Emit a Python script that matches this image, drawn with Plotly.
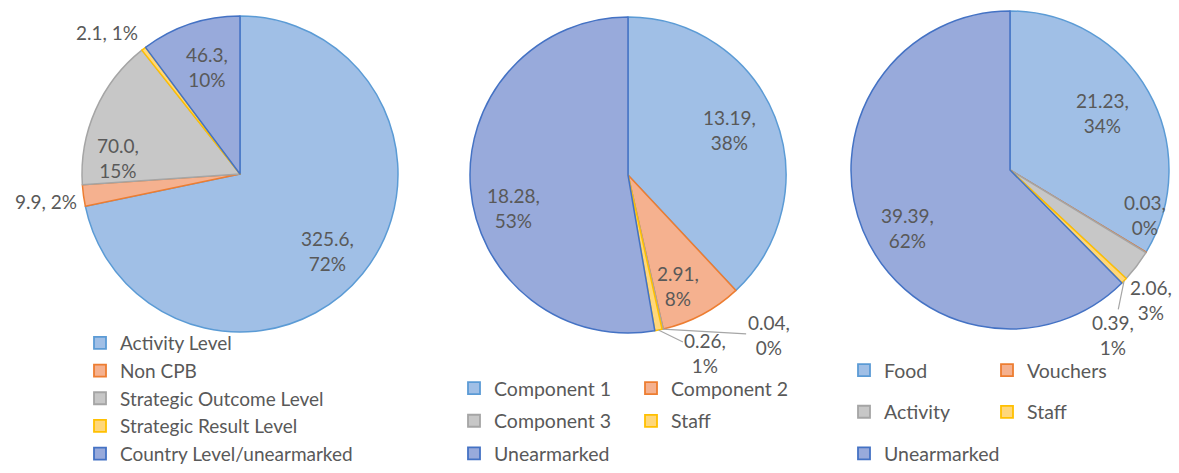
import math
import plotly.graph_objects as go

# ---- data ----
labels1 = ["Activity Level", "Non CPB", "Strategic Outcome Level", "Strategic Result Level", "Country Level/unearmarked"]
values1 = [325.6, 9.9, 70.0, 2.1, 46.3]
pct1 = ["72%", "2%", "15%", "1%", "10%"]

labels2 = ["Component 1", "Component 2", "Component 3", "Staff", "Unearmarked"]
values2 = [13.19, 2.91, 0.04, 0.26, 18.28]
pct2 = ["38%", "8%", "0%", "1%", "53%"]

labels3 = ["Food", "Vouchers", "Activity", "Staff", "Unearmarked"]
values3 = [21.23, 0.03, 2.06, 0.39, 39.39]
pct3 = ["34%", "0%", "3%", "1%", "62%"]

# ---- style ----
fills = ["#a0bfe6", "#f5b18f", "#c7c7c7", "#ffd77a", "#98aadb"]
lines = ["#5b9bd5", "#ed7d31", "#a5a5a5", "#ffc000", "#4472c4"]
FONT = "Lato"
TXT = "#595959"
LEADER = "#a6a6a6"
W, H = 1179, 473
FS = 19

# pie geometry (pixels): centre x, centre y, radius
geo = [(240, 174, 158), (628, 175, 158), (1010, 170, 159)]

# label placement per slice: ("in", dx, dy) near 0.73 r on the mid angle,
# ("out", dx, dy, xanchor) shifted from the rim point, ("arrow", ax, ay) with leader line
place1 = [("in", -2, 4), ("out", -4, 6, "right"), ("in", -17, 31), ("out", -4, -16, "right"), ("in", 3, 2)]
place2 = [("in", -6, -3), ("in", -4, 9), ("arrow", 106, 6), ("arrow", 47, 23), ("in", 0, 23)]
place3 = [("in", -9, 0), ("out", -1, -37, "center"), ("out", 14, 34, "center"), ("arrow", -11, 54), ("in", 5, 14)]

def dom(cx, cy, r):
    return dict(x=[(cx - r) / W, (cx + r) / W], y=[1 - (cy + r) / H, 1 - (cy - r) / H])

fig = go.Figure()
annotations = []

series = [
    (labels1, values1, pct1, "{:.1f}", place1),
    (labels2, values2, pct2, "{:.2f}", place2),
    (labels3, values3, pct3, "{:.2f}", place3),
]

for (lab, val, pct, fmt, place), (cx, cy, r) in zip(series, geo):
    fig.add_trace(go.Pie(
        labels=lab, values=val, domain=dom(cx, cy, r), sort=False, direction="clockwise", rotation=0,
        marker=dict(colors=fills, line=dict(color=lines, width=1.5)),
        textinfo="none", showlegend=False, hoverinfo="label+value+percent",
    ))
    total = sum(val)
    cum = 0.0
    for v, p, pl in zip(val, pct, place):
        mid = (cum + v / 2) / total * 2 * math.pi
        cum += v
        s, c = math.sin(mid), math.cos(mid)
        font = dict(family=FONT, size=FS, color=TXT)
        if pl[0] == "in":
            px, py = cx + 0.73 * r * s, cy - 0.73 * r * c
            annotations.append(dict(x=px / W, y=1 - py / H, xref="paper", yref="paper",
                                    text=fmt.format(v) + ",<br>" + p, showarrow=False,
                                    xanchor="center", yanchor="middle",
                                    xshift=pl[1], yshift=-pl[2], font=font))
        elif pl[0] == "out":
            px, py = cx + r * s, cy - r * c
            txt = fmt.format(v) + ", " + p if pl[3] == "right" else fmt.format(v) + ",<br>" + p
            annotations.append(dict(x=px / W, y=1 - py / H, xref="paper", yref="paper",
                                    text=txt, showarrow=False, xanchor=pl[3], yanchor="middle",
                                    xshift=pl[1], yshift=-pl[2], font=font))
        else:
            px, py = cx + r * s, cy - r * c
            annotations.append(dict(x=px / W, y=1 - py / H, xref="paper", yref="paper",
                                    text=fmt.format(v) + ",<br>" + p, showarrow=True,
                                    ax=pl[1], ay=pl[2], arrowhead=0, arrowwidth=1.2,
                                    arrowcolor=LEADER, standoff=0, startstandoff=0, font=font))

# legend entries (one legend per column)
legend_cols = [
    ("legend", labels1, [0, 1, 2, 3, 4]),
    ("legend2", labels2, [0, 2, 4]),
    ("legend3", labels2, [1, 3]),
    ("legend4", labels3, [0, 2, 4]),
    ("legend5", labels3, [1, 3]),
]
for lg, lab, idx in legend_cols:
    for i in idx:
        fig.add_trace(go.Scatter(
            x=[None], y=[None], mode="markers", name=lab[i], legend=lg,
            legendgroup=lg + lab[i],
            marker=dict(symbol="square", size=12, color=fills[i], line=dict(color=lines[i], width=1.8)),
        ))

def leg_top(n, fs, gap):
    # legend box height: 10px padding + n items + gaps; keep it inside the page
    h_item = 1.3 * fs + 3
    return H - 0.5 - (10 + n * h_item + (n - 1) * gap)

def leg(x, top, fs, gap):
    return dict(x=x / W, y=1 - top / H, xanchor="left", yanchor="top", bgcolor="rgba(0,0,0,0)",
                font=dict(family=FONT, size=fs, color=TXT), tracegroupgap=gap,
                itemclick=False, itemdoubleclick=False)

t1 = leg_top(5, 19, 0)
t2 = leg_top(3, 19.5, 4.2)
t4 = leg_top(3, 19.5, 13.2)

fig.update_layout(
    width=W, height=H, margin=dict(l=0, r=0, t=0, b=0),
    paper_bgcolor="white", plot_bgcolor="white",
    xaxis=dict(visible=False), yaxis=dict(visible=False),
    annotations=annotations,
    legend=leg(80, t1, 19, 0),
    legend2=leg(454, t2, 19.5, 4.2),
    legend3=leg(631, t2, 19.5, 4.2),
    legend4=leg(844, t4, 19.5, 13.2),
    legend5=leg(987, t4, 19.5, 13.2),
)

fig.write_html("out.html")
